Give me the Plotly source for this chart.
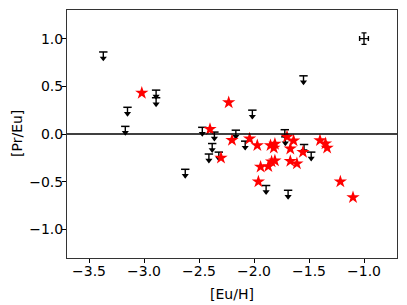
import plotly.graph_objects as go
import numpy as np

# Red stars: measured [Pr/Eu] vs [Eu/H]
star_x = [-3.02, -2.40, -2.30, -2.23, -2.20, -2.04, -1.97, -1.94, -1.96,
          -1.85, -1.82, -1.81, -1.87, -1.84, -1.81, -1.70, -1.64, -1.67,
          -1.67, -1.61, -1.555, -1.40, -1.35, -1.335, -1.215, -1.10]
star_y = [0.43, 0.05, -0.25, 0.33, -0.065, -0.05, -0.12, -0.345, -0.50,
          -0.12, -0.145, -0.105, -0.34, -0.29, -0.28, -0.03, -0.07, -0.155,
          -0.285, -0.31, -0.19, -0.067, -0.10, -0.145, -0.50, -0.665]

# Black upper limits
lim_x = [-3.37, -3.15, -3.17, -2.89, -2.89, -2.625, -2.47, -2.36, -2.38,
         -2.41, -2.32, -2.165, -2.08, -2.015, -1.55, -1.72, -1.715, -1.545,
         -1.48, -1.89, -1.69]
lim_y = [0.86, 0.28, 0.08, 0.46, 0.38, -0.37, 0.07, 0.02, -0.10,
         -0.21, -0.19, 0.04, -0.075, 0.25, 0.61, 0.045, -0.03, -0.11,
         -0.19, -0.54, -0.59]

# Typical error bar
err_x = [-1.0]
err_y = [1.0]
err_dx = [0.04]
err_dy = [0.06]

x_ticks = [-3.5, -3.0, -2.5, -2.0, -1.5, -1.0]
y_ticks = [-1.0, -0.5, 0.0, 0.5, 1.0]

FONT = "DejaVu Sans"
FS = 14
fig = go.Figure()

lx = np.array(lim_x)
ly = np.array(lim_y)
# stem of arrows with cap on top
fig.add_trace(go.Scatter(
    x=lx, y=ly, mode="markers",
    marker=dict(symbol="line-ew-open", size=6, color="black",
                line=dict(color="black", width=1.5)),
    error_y=dict(type="data", symmetric=False, array=[0]*len(lim_y),
                 arrayminus=[0.085]*len(lim_y), width=0, thickness=1.4,
                 color="black"),
    showlegend=False, hoverinfo="skip"))
# arrow heads
fig.add_trace(go.Scatter(
    x=lx, y=ly - 0.066, mode="markers",
    marker=dict(symbol="triangle-down", size=6.2, color="black",
                line=dict(width=0)),
    showlegend=False, hoverinfo="skip"))

fig.add_trace(go.Scatter(
    x=star_x, y=star_y, mode="markers",
    marker=dict(symbol="star", size=10, color="red", line=dict(width=0)),
    showlegend=False))

fig.add_trace(go.Scatter(
    x=err_x, y=err_y, mode="markers",
    marker=dict(size=1, color="black"),
    error_x=dict(type="data", array=err_dx, width=2.5, thickness=1.4, color="black"),
    error_y=dict(type="data", array=err_dy, width=2.5, thickness=1.4, color="black"),
    showlegend=False))

fig.add_shape(type="line", xref="x domain", yref="y", x0=0, x1=1, y0=0, y1=0,
              line=dict(color="black", width=1.3))

axis_common = dict(showgrid=False, zeroline=False, showline=True, mirror=True,
                   linecolor="#333", linewidth=1, ticks="outside", ticklen=4,
                   tickwidth=1, tickcolor="black", automargin=False,
                   ticklabelstandoff=-4,
                   tickfont=dict(family=FONT, size=FS, color="black"),
                   tickformat=".1f")
fig.update_xaxes(range=[-3.7, -0.7], tickvals=x_ticks, **axis_common)
fig.update_yaxes(range=[-1.3, 1.3], tickvals=y_ticks, **axis_common)

fig.add_annotation(text="[Eu/H]", xref="x domain", yref="y domain",
                   x=0.5, y=0, xanchor="center", yanchor="middle", yshift=-36,
                   showarrow=False,
                   font=dict(family=FONT, size=FS, color="black"))
fig.add_annotation(text="[Pr/Eu]", xref="x domain", yref="y domain",
                   x=0, xshift=-50, y=0.5, xanchor="center", yanchor="middle",
                   textangle=-90, showarrow=False,
                   font=dict(family=FONT, size=FS, color="black"))

# page body adds an 8px offset, so margins are shifted accordingly
fig.update_layout(width=407, height=305,
                  margin=dict(l=59, r=18, t=2, b=55, autoexpand=False),
                  plot_bgcolor="white", paper_bgcolor="white",
                  font=dict(family=FONT, size=FS, color="black"))

fig.write_html("out.html")
